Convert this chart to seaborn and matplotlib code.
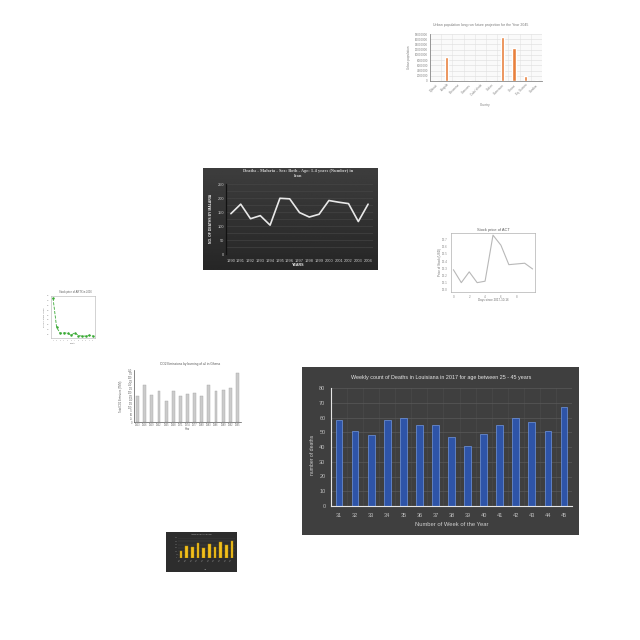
import numpy as np
import pandas as pd
import matplotlib
matplotlib.use('Agg')
import matplotlib.pyplot as plt
from matplotlib.ticker import FuncFormatter
import seaborn as sns

sns.set_style('white')
plt.rcParams['font.family'] = ['Liberation Sans', 'DejaVu Sans']

# main chart: weekly deaths in Louisiana 2017
weeks = [31, 32, 33, 34, 35, 36, 37, 38, 39, 40, 41, 42, 43, 44, 45]
deaths = [58, 51, 48, 58, 60, 55, 55, 47, 41, 49, 55, 60, 57, 51, 67]

# malaria deaths in Iran
mal_years = [1990, 1991, 1992, 1993, 1994, 1995, 1996, 1997, 1998, 1999, 2000, 2001, 2002, 2003, 2004]
mal_deaths = [144, 178, 126, 137, 103, 199, 197, 148, 132, 142, 191, 185, 180, 116, 178]

# urban population projection 2045
countries = ['Djibouti', 'Angola', 'Botswana', 'Comoros', 'Cabo Verde', 'Gabon',
             'Cameroon', 'Ghana', 'Eq. Guinea', 'Gambia']
urban_pop = [300000, 9050000, 350000, 300000, 300000, 200000, 16700000, 12600000, 1750000, 250000]

# stock price of ACT
act_days = [0, 1, 2, 3, 4, 5, 6, 7, 8, 9, 10]
act_price = [13.28, 13.10, 13.25, 13.10, 13.12, 13.76, 13.62, 13.35, 13.36, 13.37, 13.29]
act_ticks = [13.0, 13.1, 13.2, 13.3, 13.4, 13.5, 13.6, 13.7]

# stock price of ARTX
artx_month = [1, 2, 3, 4, 5, 6, 7, 8, 9, 10, 11, 12]
artx_price = [4.3, 1.2, 0.6, 0.65, 0.6, 0.4, 0.65, 0.35, 0.3, 0.3, 0.4, 0.3]

# CO2 emissions in Ghana
co2_years = [1953, 1956, 1959, 1962, 1965, 1968, 1971, 1974, 1977, 1980, 1983, 1986, 1989, 1992, 1995]
co2_vals = [176, 246, 183, 212, 142, 212, 176, 190, 192, 172, 248, 208, 217, 228, 327]

# yellow bar chart
yel_labels = ['2007', '2008', '2009', '2010', '2011', '2012', '2013', '2014', '2015', '2016']
yel_vals = [22, 36, 33, 44, 31, 43, 33, 48, 40, 51]


def box(x0, y0, x1, y1):
    return [x0 / 640, 1 - y1 / 640, (x1 - x0) / 640, (y1 - y0) / 640]


def px(x, y):
    return x / 640, 1 - y / 640


def blank(ax):
    ax.set_xticks([])
    ax.set_yticks([])
    for s in ax.spines.values():
        s.set_visible(False)


fig = plt.figure(figsize=(6.4, 6.4), dpi=100)
fig.patch.set_facecolor('white')

### main chart
bg = fig.add_axes(box(302, 367, 579, 535))
bg.set_facecolor('#3f3f3f')
blank(bg)
ax = fig.add_axes(box(331, 388, 572, 506))
ax.set_facecolor('none')
sns.barplot(x=weeks, y=deaths, color='#2e54a8', edgecolor='#7096e0', linewidth=0.5,
            width=0.42, saturation=1, ax=ax)
ax.set_xlim(-0.5, 14.5)
ax.set_ylim(0, 80)
ax.set_yticks(range(0, 81, 10))
ax.set_xticks(np.arange(-0.5, 15, 1), minor=True)
ax.grid(axis='y', color='#5a5a5a', lw=0.5)
ax.grid(axis='x', which='minor', color='#4c4c4c', lw=0.4)
ax.set_axisbelow(True)
ax.tick_params(length=0, labelsize=4, colors='#bdbdbd')
ax.tick_params(axis='x', pad=5)
ax.tick_params(axis='y', pad=4)
for s in ['top', 'right']:
    ax.spines[s].set_visible(False)
for s in ['left', 'bottom']:
    ax.spines[s].set_color('#e6e6e6')
    ax.spines[s].set_linewidth(0.8)
ax.set_xlabel('')
fig.text(*px(441, 377), 'Weekly count of Deaths in Louisiana in 2017 for age between 25 - 45 years',
         ha='center', va='center', fontsize=3.9, color='#e6e6e6')
fig.text(*px(452, 524), 'Number of Week of the Year', ha='center', va='center',
         fontsize=4.2, color='#d0d0d0')
fig.text(*px(312, 455), 'number of deaths', ha='center', va='center', rotation=90,
         fontsize=3.7, color='#d0d0d0')

### malaria chart
bg2 = fig.add_axes(box(203, 168, 378, 270))
bg2.imshow(np.linspace(0.24, 0.15, 50)[:, None], cmap='gray', vmin=0, vmax=1,
           aspect='auto', extent=[0, 1, 0, 1])
blank(bg2)
ax2 = fig.add_axes(box(226, 184, 373, 254))
ax2.set_facecolor('none')
sns.lineplot(x=mal_years, y=mal_deaths, color='#e8e8e8', lw=1.2, ax=ax2)
ax2.set_xlim(1989.5, 2004.5)
ax2.set_ylim(0, 250)
ax2.set_xticks(mal_years)
ax2.set_yticks(range(0, 251, 50))
ax2.set_yticks(range(0, 251, 25), minor=True)
ax2.grid(axis='y', which='both', color='#484848', lw=0.4)
ax2.tick_params(length=0, labelsize=2.9, colors='#c8c8c8')
ax2.tick_params(axis='x', pad=3.5)
ax2.tick_params(axis='y', pad=1.5)
for s in ['top', 'right', 'bottom']:
    ax2.spines[s].set_visible(False)
ax2.spines['left'].set_color('#111111')
ax2.spines['left'].set_linewidth(0.9)
fig.text(*px(298, 173.5), 'Deaths - Malaria - Sex: Both - Age: 1-4 years (Number) in\nIran',
         ha='center', va='center', fontsize=3.2, color='#d0d0d0', weight='bold',
         family='Liberation Serif', linespacing=1.3)
fig.text(*px(211, 218), 'NO. OF DEATHS BY MALARIA', ha='center', va='center', rotation=90,
         fontsize=2.4, color='#f0f0f0', weight='bold')
fig.text(*px(298, 265), 'YEARS', ha='center', va='center', fontsize=2.6,
         color='#f0f0f0', weight='bold')

### urban population chart
ax3 = fig.add_axes(box(430, 34, 542, 81))
ax3.set_facecolor('#fafafa')
sns.barplot(x=countries, y=urban_pop, color='#e8803c', width=0.3, saturation=1, ax=ax3)
ax3.set_ylim(0, 18000000)
ax3.set_yticks(range(0, 18000001, 2000000))
ax3.yaxis.set_major_formatter(FuncFormatter(lambda v, p: f'{int(v)}'))
ax3.set_xticks(np.arange(-0.5, 10, 1), minor=True)
ax3.grid(axis='y', color='#dddddd', lw=0.4)
ax3.grid(axis='x', which='minor', color='#e4e4e4', lw=0.4)
ax3.set_axisbelow(True)
ax3.tick_params(length=0, labelsize=2.1, colors='#808080', pad=1.5)
plt.setp(ax3.get_xticklabels(), rotation=45, ha='right', rotation_mode='anchor')
for s in ['top', 'right']:
    ax3.spines[s].set_visible(False)
for s in ['left', 'bottom']:
    ax3.spines[s].set_color('#888888')
    ax3.spines[s].set_linewidth(0.6)
fig.text(*px(481, 25), 'Urban population long run future projection for the Year 2045',
         ha='center', va='center', fontsize=2.5, color='#7a7a7a')
fig.text(*px(485, 105), 'Country', ha='center', va='center', fontsize=2.2, color='#7a7a7a')
fig.text(*px(409, 57), 'Urban population', ha='center', va='center', rotation=90,
         fontsize=2.2, color='#7a7a7a')

### stock price of ACT
ax4 = fig.add_axes(box(451, 233, 535, 292))
ax4.set_facecolor('white')
sns.lineplot(x=act_days, y=act_price, color='#b8b8b8', lw=0.8, ax=ax4)
ax4.set_xlim(-0.3, 10.3)
ax4.set_ylim(12.97, 13.79)
ax4.set_xticks([0, 2, 4, 6, 8])
ax4.set_yticks(act_ticks)
ax4.yaxis.set_major_formatter(FuncFormatter(lambda v, p: f'{v:.1f}'))
ax4.tick_params(labelsize=2.2, length=1.2, width=0.4, colors='#888888', pad=1)
for s in ax4.spines.values():
    s.set_color('#b0b0b0')
    s.set_linewidth(0.5)
fig.text(*px(493, 229.5), 'Stock price of ACT', ha='center', va='center', fontsize=2.9, color='#606060')
fig.text(*px(440, 262), 'Price of Stock (USD)', ha='center', va='center', rotation=90,
         fontsize=2.2, color='#707070')
fig.text(*px(493, 300), 'Days since 2017-10-16', ha='center', va='center', fontsize=2.2, color='#707070')

### stock price of ARTX
ax5 = fig.add_axes(box(51, 296, 95, 338))
ax5.set_facecolor('white')
sns.lineplot(x=artx_month, y=artx_price, color='#3aaa35', lw=0.6, ls='--', marker='o',
             ms=1, mec='#3aaa35', ax=ax5)
ax5.set_xticks(artx_month)
ax5.tick_params(labelsize=1.3, length=0.8, width=0.3, colors='#888888', pad=0.6)
for s in ax5.spines.values():
    s.set_color('#b0b0b0')
    s.set_linewidth(0.4)
fig.text(*px(75, 292.5), 'Stock price of ARTX in 2016', ha='center', va='center',
         fontsize=1.9, color='#606060')
fig.text(*px(44, 317), 'Price of Stock (USD)', ha='center', va='center', rotation=90,
         fontsize=1.5, color='#707070')
fig.text(*px(73, 343), 'Month', ha='center', va='center', fontsize=1.5, color='#707070')

### CO2 emissions
ax6 = fig.add_axes(box(134, 370, 241, 422))
ax6.set_facecolor('white')
sns.barplot(x=co2_years, y=co2_vals, color='#cbcbcb', edgecolor='#a5a5a5', linewidth=0.3,
            width=0.4, saturation=1, ax=ax6)
ax6.set_ylim(0, 350)
ax6.set_yticks(range(0, 351, 25))
ax6.tick_params(length=0, labelsize=1.8, colors='#666666', pad=1)
for s in ['top', 'right']:
    ax6.spines[s].set_visible(False)
for s in ['left', 'bottom']:
    ax6.spines[s].set_color('#555555')
    ax6.spines[s].set_linewidth(0.5)
fig.text(*px(190, 364), 'CO2 Emissions by burning of oil in Ghana', ha='center', va='center',
         fontsize=2.3, color='#555555')
fig.text(*px(121, 396), 'Total CO2 Emissions (TMM)', ha='center', va='center', rotation=90,
         fontsize=1.8, color='#555555')
fig.text(*px(187, 429), 'Year', ha='center', va='center', fontsize=1.8, color='#555555')

### yellow bar chart
bg7 = fig.add_axes(box(166, 532, 237, 572))
bg7.set_facecolor('#2d2d2d')
blank(bg7)
ax7 = fig.add_axes(box(178, 538, 235, 558))
ax7.set_facecolor('none')
sns.barplot(x=yel_labels, y=yel_vals, color='#f2c01e', edgecolor='#b58900', linewidth=0.3,
            width=0.45, saturation=1, ax=ax7)
ax7.set_ylim(0, 60)
ax7.set_yticks(range(0, 61, 10))
ax7.grid(axis='y', color='#4a4a4a', lw=0.3)
ax7.set_axisbelow(True)
ax7.tick_params(length=0, labelsize=1.1, colors='#999999', pad=0.6)
plt.setp(ax7.get_xticklabels(), rotation=45, ha='right', rotation_mode='anchor')
for s in ax7.spines.values():
    s.set_visible(False)
fig.text(*px(201, 534.5), 'Annual production by year', ha='center', va='center',
         fontsize=1.3, color='#bbbbbb')
fig.text(*px(206, 569.5), 'Year', ha='center', va='center', fontsize=1.1, color='#bbbbbb')

fig.savefig('out.png', dpi=100)
